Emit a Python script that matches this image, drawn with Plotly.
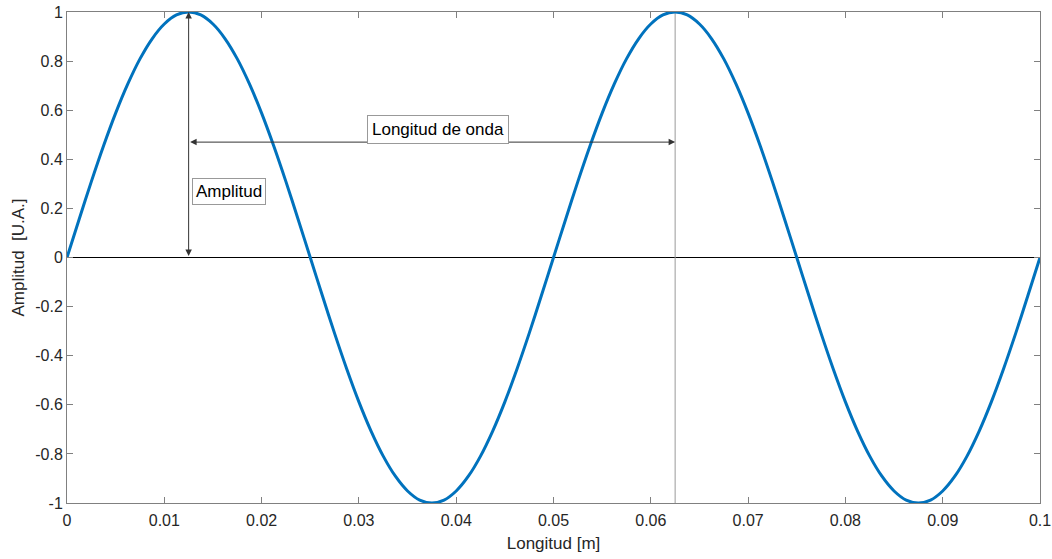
import plotly.graph_objects as go

# Data (samples every 0.00125 m)
x_vals = [round(0.00125 * i, 5) for i in range(81)]
half_up = [0, 0.156, 0.309, 0.454, 0.588, 0.707, 0.809, 0.891, 0.951, 0.988,
           1, 0.988, 0.951, 0.891, 0.809, 0.707, 0.588, 0.454, 0.309, 0.156]
half_down = [0, -0.156, -0.309, -0.454, -0.588, -0.707, -0.809, -0.891, -0.951, -0.988,
             -1, -0.988, -0.951, -0.891, -0.809, -0.707, -0.588, -0.454, -0.309, -0.156]
y_vals = half_up + half_down + half_up + half_down + [0]

x_ticks = [0, 0.01, 0.02, 0.03, 0.04, 0.05, 0.06, 0.07, 0.08, 0.09, 0.1]
x_ticktext = ["0", "0.01", "0.02", "0.03", "0.04", "0.05", "0.06", "0.07", "0.08", "0.09", "0.1"]
y_ticks = [-1, -0.8, -0.6, -0.4, -0.2, 0, 0.2, 0.4, 0.6, 0.8, 1]
y_ticktext = ["-1", "-0.8", "-0.6", "-0.4", "-0.2", "0", "0.2", "0.4", "0.6", "0.8", "1"]

peak_x = 0.0125
next_peak_x = 0.0625
arrow_y = 0.470

font = "Liberation Sans, Arial, Helvetica, sans-serif"
axcol = "#808080"
txtcol = "#262626"

fig = go.Figure()
fig.add_trace(go.Scatter(x=x_vals, y=y_vals, mode="lines",
                         line=dict(color="#0072BD", width=3, shape="spline", smoothing=0.8),
                         hoverinfo="skip", showlegend=False))

fig.add_shape(type="line", x0=0, x1=0.1, y0=0, y1=0, xref="x", yref="y",
              line=dict(color="black", width=1), layer="below")
fig.add_shape(type="line", x0=next_peak_x, x1=next_peak_x, y0=-1, y1=1, xref="x", yref="y",
              line=dict(color="#999999", width=1), layer="below")

# Double-headed arrows
fig.add_annotation(x=peak_x, y=1, ax=peak_x, ay=0, xref="x", yref="y", axref="x", ayref="y",
                   text="", showarrow=True, arrowhead=2, startarrowhead=2, arrowside="end+start",
                   arrowsize=1.3, startarrowsize=1.3, arrowwidth=1, arrowcolor="#333333")
fig.add_annotation(x=next_peak_x, y=arrow_y, ax=peak_x, ay=arrow_y, xref="x", yref="y", axref="x", ayref="y",
                   text="", showarrow=True, arrowhead=2, startarrowhead=2, arrowside="end+start",
                   arrowsize=1.3, startarrowsize=1.3, arrowwidth=1, arrowcolor="#333333")

fig.add_annotation(x=0.03083, y=0.523, xref="x", yref="y", xanchor="left", yanchor="middle",
                   text="Longitud de onda", showarrow=False,
                   font=dict(family=font, size=17, color="black"),
                   bgcolor="white", bordercolor="#999999", borderwidth=1, borderpad=4)
fig.add_annotation(x=0.01285, y=0.269, xref="x", yref="y", xanchor="left", yanchor="middle",
                   text="Amplitud", showarrow=False,
                   font=dict(family=font, size=17, color="black"),
                   bgcolor="white", bordercolor="#999999", borderwidth=1, borderpad=3)

fig.update_layout(
    width=1052, height=559,
    margin=dict(l=67, r=12, t=12, b=56, autoexpand=False),
    paper_bgcolor="white", plot_bgcolor="white",
    font=dict(family=font, size=16, color=txtcol),
    showlegend=False,
    xaxis=dict(range=[0, 0.1], tickvals=x_ticks, ticktext=x_ticktext, automargin=False,
               showgrid=False, zeroline=False, showline=True, linecolor=axcol, linewidth=1,
               mirror="ticks", ticks="inside", ticklen=6, tickcolor=axcol, ticklabelstandoff=3,
               tickfont=dict(family=font, size=16, color=txtcol),
               title=dict(text="Longitud [m]", font=dict(family=font, size=17, color=txtcol), standoff=8)),
    yaxis=dict(range=[-1, 1], tickvals=y_ticks, ticktext=y_ticktext, automargin=False,
               showgrid=False, zeroline=False, showline=True, linecolor=axcol, linewidth=1,
               mirror="ticks", ticks="inside", ticklen=6, tickcolor=axcol,
               tickfont=dict(family=font, size=16, color=txtcol),
               title=dict(text="Amplitud  [U.A.]", font=dict(family=font, size=17, color=txtcol), standoff=6)),
)

fig.write_html("out.html")
